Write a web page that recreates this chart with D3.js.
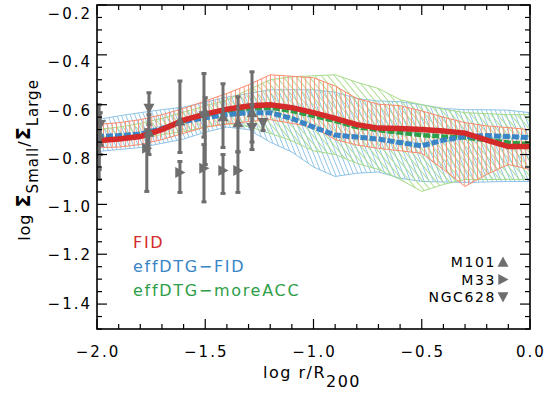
<!DOCTYPE html>
<html><head><meta charset="utf-8">
<script src="https://cdn.jsdelivr.net/npm/d3@7/dist/d3.min.js"></script>
<style>body{margin:0;background:#fff}svg{display:block}text{font-family:"DejaVu Sans",Verdana,sans-serif}</style>
</head><body><svg id="c" width="546" height="399"></svg>
<script>
// ---- data ----
const xGrid  = [-2.0,-1.9,-1.8,-1.7,-1.6,-1.5,-1.4,-1.3,-1.2,-1.1,-1.0,-0.9,-0.8,-0.7,-0.6,-0.5,-0.4,-0.3,-0.2,-0.1,0.0];
const fidMid = [-0.745,-0.738,-0.728,-0.700,-0.662,-0.638,-0.618,-0.605,-0.600,-0.612,-0.632,-0.655,-0.680,-0.694,-0.696,-0.700,-0.706,-0.714,-0.742,-0.768,-0.768];
const fidHi  = [-0.680,-0.672,-0.660,-0.640,-0.615,-0.585,-0.555,-0.520,-0.480,-0.486,-0.492,-0.525,-0.575,-0.598,-0.604,-0.625,-0.650,-0.672,-0.685,-0.692,-0.700];
const fidLo  = [-0.772,-0.770,-0.760,-0.740,-0.715,-0.690,-0.678,-0.668,-0.660,-0.675,-0.690,-0.740,-0.762,-0.775,-0.785,-0.795,-0.860,-0.928,-0.880,-0.840,-0.860];
const dtgMid = [-0.728,-0.724,-0.718,-0.695,-0.668,-0.652,-0.640,-0.632,-0.632,-0.655,-0.690,-0.722,-0.730,-0.738,-0.752,-0.765,-0.742,-0.728,-0.724,-0.728,-0.732];
const dtgHi  = [-0.660,-0.645,-0.632,-0.620,-0.610,-0.590,-0.570,-0.555,-0.540,-0.540,-0.540,-0.550,-0.575,-0.585,-0.588,-0.600,-0.615,-0.620,-0.620,-0.622,-0.632];
const dtgLo  = [-0.788,-0.780,-0.772,-0.755,-0.738,-0.710,-0.690,-0.700,-0.750,-0.790,-0.850,-0.888,-0.875,-0.870,-0.895,-0.908,-0.910,-0.912,-0.910,-0.908,-0.908];
const accMid = [-0.740,-0.733,-0.725,-0.698,-0.665,-0.642,-0.625,-0.615,-0.612,-0.625,-0.645,-0.665,-0.690,-0.702,-0.712,-0.722,-0.728,-0.732,-0.742,-0.752,-0.758];
const accHi  = [-0.700,-0.690,-0.675,-0.655,-0.630,-0.605,-0.580,-0.540,-0.500,-0.488,-0.484,-0.480,-0.510,-0.535,-0.580,-0.600,-0.618,-0.632,-0.636,-0.640,-0.640];
const accLo  = [-0.752,-0.745,-0.735,-0.720,-0.708,-0.690,-0.675,-0.688,-0.715,-0.745,-0.785,-0.800,-0.835,-0.860,-0.900,-0.948,-0.920,-0.900,-0.900,-0.900,-0.900];

const m101X  = [-1.99,-1.76,-1.617,-1.50,-1.418,-1.349,-1.284];
const m101Y  = [-0.750,-0.710,-0.665,-0.630,-0.648,-0.672,-0.632];
const m101Hi = [-0.600,-0.640,-0.505,-0.572,-0.516,-0.568,-0.468];
const m101Lo = [-0.900,-0.800,-0.792,-0.840,-0.772,-0.788,-0.780];
const m33X   = [-1.99,-1.77,-1.617,-1.506,-1.418,-1.349];
const m33Y   = [-0.800,-0.775,-0.872,-0.855,-0.864,-0.864];
const m33Hi  = [-0.740,-0.700,-0.828,-0.760,-0.800,-0.790];
const m33Lo  = [-0.860,-0.948,-0.952,-0.990,-0.956,-0.952];
const n628X  = [-1.985,-1.76,-1.506,-1.284,-1.233];
const n628Y  = [-0.680,-0.615,-0.645,-0.692,-0.672];
const n628Hi = [-0.632,-0.552,-0.475,-0.600,-0.660];
const n628Lo = [-0.730,-0.680,-0.730,-0.750,-0.704];

const xMajor = [-2.0,-1.5,-1.0,-0.5,0.0];
const xMajorLabels = ["−2.0","−1.5","−1.0","−0.5","0.0"];
const yMajor = [-0.2,-0.4,-0.6,-0.8,-1.0,-1.2,-1.4];
const yMajorLabels = ["−0.2","−0.4","−0.6","−0.8","−1.0","−1.2","−1.4"];
const modelNames = ["FID","effDTG−FID","effDTG−moreACC"];
const obsNames = ["M101","M33","NGC628"];

// ---- drawing ----
const svg = d3.select("#c");
const L=97,R=530,T=5,B=329;
const x = d3.scaleLinear().domain([-2,0]).range([L,R]);
const y = d3.scaleLinear().domain([-0.2,-1.5]).range([T,B]);
// tick labels sit slightly offset from their ticks in the original
const yLab = d3.scaleLinear().domain([-0.2,-1.4]).range([13.5,303]);
const defs = svg.append("defs");
defs.append("clipPath").attr("id","plotclip").append("rect").attr("x",L).attr("y",T).attr("width",R-L).attr("height",B-T);

function hatch(id,color,spacing,angle,w){
  const p = defs.append("pattern").attr("id",id).attr("patternUnits","userSpaceOnUse")
    .attr("width",spacing).attr("height",20).attr("patternTransform",`rotate(${angle})`);
  p.append("line").attr("x1",spacing/2).attr("x2",spacing/2).attr("y1",0).attr("y2",20)
    .attr("stroke",color).attr("stroke-width",w);
}
const cBlueBand="#8ec3e6", cGreenBand="#a6dc8a", cRedBand="#fb8a6c";
hatch("hb",cBlueBand,4.2,-22,0.9);
hatch("hg",cGreenBand,5.0,-40,0.9);
hatch("hr",cRedBand,4.4,0,0.9);

const plot = svg.append("g").attr("clip-path","url(#plotclip)");
const area = d3.area().x((d,i)=>x(xGrid[i])).y0(d=>y(d[0])).y1(d=>y(d[1]));
function band(lo,hi,pat,color){
  const data = lo.map((v,i)=>[v,hi[i]]);
  plot.append("path").datum(data).attr("d",area).attr("fill",`url(#${pat})`)
    .attr("stroke",color).attr("stroke-width",1);
}
band(dtgLo,dtgHi,"hb",cBlueBand);
band(accLo,accHi,"hg",cGreenBand);
band(fidLo,fidHi,"hr",cRedBand);

const line = d3.line().x((d,i)=>x(xGrid[i])).y(d=>y(d));
plot.append("path").datum(accMid).attr("d",line).attr("fill","none").attr("stroke","#2e9e48").attr("stroke-width",4.5).attr("stroke-dasharray","7,2");
plot.append("path").datum(dtgMid).attr("d",line).attr("fill","none").attr("stroke","#3a85c6").attr("stroke-width",5).attr("stroke-dasharray","7,2");
plot.append("path").datum(fidMid).attr("d",line).attr("fill","none").attr("stroke","#d42a2a").attr("stroke-width",5.5);

// observations
const gray="#6e6e6e";
function tri(cx,cy,dir,s){
  if(dir==="up") return `M${cx-s},${cy+s*0.85}L${cx+s},${cy+s*0.85}L${cx},${cy-s}Z`;
  if(dir==="down") return `M${cx-s},${cy-s*0.85}L${cx+s},${cy-s*0.85}L${cx},${cy+s}Z`;
  return `M${cx-s*0.85},${cy-s}L${cx-s*0.85},${cy+s}L${cx+s},${cy}Z`;
}
function obs(X,Y,Hi,Lo,dir){
  const g = plot.append("g");
  X.forEach((xv,i)=>{
    const px=x(xv);
    g.append("line").attr("x1",px).attr("x2",px).attr("y1",y(Hi[i])).attr("y2",y(Lo[i])).attr("stroke",gray).attr("stroke-width",3);
    [Hi[i],Lo[i]].forEach(v=>g.append("rect").attr("x",px-2.5).attr("y",y(v)-1.5).attr("width",5).attr("height",3).attr("fill",gray));
  });
  X.forEach((xv,i)=>{
    g.append("path").attr("d",tri(x(xv),y(Y[i]),dir,5.5)).attr("fill",gray);
  });
}
obs(m101X,m101Y,m101Hi,m101Lo,"up");
obs(m33X,m33Y,m33Hi,m33Lo,"right");
obs(n628X,n628Y,n628Hi,n628Lo,"down");

// frame + ticks
const ax = svg.append("g");
ax.append("rect").attr("x",L).attr("y",T).attr("width",R-L).attr("height",B-T).attr("fill","none").attr("stroke","#000").attr("stroke-width",1.6);
const xMinor = d3.range(-20,1).map(k=>k/10);
xMinor.forEach(v=>{
  const major = xMajor.some(m=>Math.abs(m-v)<1e-6);
  const len = major?10:5;
  ax.append("line").attr("x1",x(v)).attr("x2",x(v)).attr("y1",B).attr("y2",B-len).attr("stroke","#000").attr("stroke-width",1.2);
  ax.append("line").attr("x1",x(v)).attr("x2",x(v)).attr("y1",T).attr("y2",T+len).attr("stroke","#000").attr("stroke-width",1.2);
});
const yMinor = d3.range(4,31).map(k=>-k*0.05);
yMinor.forEach(v=>{
  const major = yMajor.some(m=>Math.abs(m-v)<1e-6);
  const len = major?10:5;
  ax.append("line").attr("x1",L).attr("x2",L+len).attr("y1",y(v)).attr("y2",y(v)).attr("stroke","#000").attr("stroke-width",1.2);
  ax.append("line").attr("x1",R).attr("x2",R-len).attr("y1",y(v)).attr("y2",y(v)).attr("stroke","#000").attr("stroke-width",1.2);
});
xMajor.forEach((v,i)=>{
  ax.append("text").attr("x",x(v)+1).attr("y",357).attr("text-anchor","middle").attr("font-size",15).attr("letter-spacing",2).attr("fill","#000").text(xMajorLabels[i]);
});
yMajor.forEach((v,i)=>{
  ax.append("text").attr("x",92).attr("y",yLab(v)+5.5).attr("text-anchor","end").attr("font-size",15).attr("letter-spacing",2).attr("fill","#000").text(yMajorLabels[i]);
});
// axis titles
const xt = ax.append("text").attr("x",312).attr("y",378).attr("text-anchor","middle").attr("font-size",16).attr("letter-spacing",1.5).attr("fill","#000");
xt.append("tspan").text("log r/R");
xt.append("tspan").attr("dy",9).text("200");
const yt = ax.append("text").attr("transform","translate(30,160) rotate(-90)").attr("text-anchor","middle").attr("font-size",16).attr("letter-spacing",1).attr("fill","#000");
yt.append("tspan").text("log ");
yt.append("tspan").attr("font-weight","bold").attr("font-size",19).text("Σ");
yt.append("tspan").attr("dy",8).attr("font-size",15).text("Small");
yt.append("tspan").attr("dy",-8).text("/");
yt.append("tspan").attr("font-weight","bold").attr("font-size",19).text("Σ");
yt.append("tspan").attr("dy",8).attr("font-size",15).text("Large");

// model legend
const modelColors=["#d42a2a","#3a85c6","#2e9e48"];
modelNames.forEach((n,i)=>{
  svg.append("text").attr("x",133).attr("y",248+i*24).attr("font-size",16).attr("letter-spacing",1.7).attr("fill",modelColors[i]).text(n);
});
// obs legend
const dirs=["up","right","down"];
obsNames.forEach((n,i)=>{
  const yy = 262+i*17.5;
  svg.append("text").attr("x",496).attr("y",yy+5).attr("text-anchor","end").attr("font-size",14).attr("letter-spacing",1.6).attr("fill","#000").text(n);
  svg.append("path").attr("d",tri(503,yy,dirs[i],5.5)).attr("fill",gray);
});
</script></body></html>
